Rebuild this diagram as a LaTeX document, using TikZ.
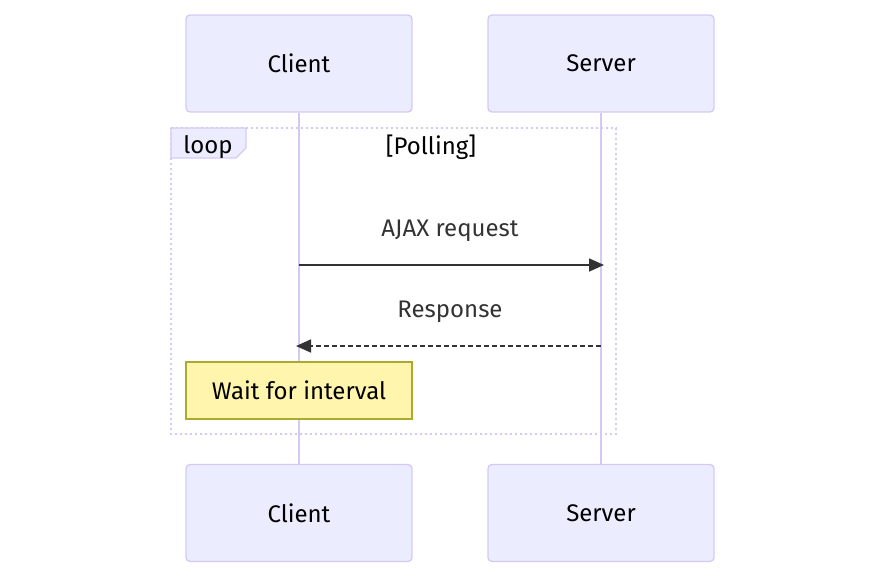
\documentclass[tikz,border=0pt]{standalone}
\usepackage{fontspec}
\setmainfont{Fira Sans}
\usetikzlibrary{arrows.meta}

\definecolor{actorfill}{HTML}{ECECFF}
\definecolor{actorline}{HTML}{D5C9F4}
\definecolor{notefill}{HTML}{FFF5AD}
\definecolor{noteline}{HTML}{AAAA33}
\definecolor{msgtext}{HTML}{333333}

\begin{document}
\begin{tikzpicture}[x=1pt,y=-1pt,> = {Triangle[length=15pt,width=13pt]},
	actor/.style={draw=actorline,fill=actorfill,line width=1.3pt,rounded corners=4pt,
		minimum width=226pt,minimum height=97pt,font=\fontsize{24}{28}\selectfont},
	msg/.style={text=msgtext,font=\fontsize{24}{28}\selectfont},
	lifeline/.style={draw=actorline,line width=2.5pt}]
			\useasboundingbox (0,0) rectangle (885,579);

			% Actors
			\node[actor] (clientTop) at (299,63.5) {Client};
			\node[actor] (serverTop) at (601,63.5) {Server};
			\node[actor] (clientBot) at (299,513) {Client};
			\node[actor] (serverBot) at (601,513) {Server};

			% Lifelines
			\draw[lifeline] (clientTop) -- (clientBot);
			\draw[lifeline] (serverTop) -- (serverBot);

			% Loop frame
			\draw[actorline, line width=2.6pt, dash pattern=on 2.4pt off 2.6pt] (171,128) rectangle (616,434);
			\draw[actorline, fill=actorfill, line width=1.3pt] (171,128) -- (246,128) -- (246,148) -- (236,158) -- (171,158) -- cycle;
			\node[font=\fontsize{24}{28}\selectfont] (loopLbl) at (208,147) {loop};
			\node[font=\fontsize{24}{28}\selectfont] (loopCond) at (431,147) {[Polling]};

			% Messages
			\coordinate (ajaxFrom) at (299,265);
			\coordinate (ajaxTo) at (604,265);
			\coordinate (respFrom) at (601,346);
			\coordinate (respTo) at (296,346);
			\node[msg] (ajaxLbl) at (450,231) {AJAX request};
			\draw[->, msgtext, line width=1.6pt] (ajaxFrom) -- (ajaxTo);
			\node[msg] (respLbl) at (450,312) {Response};
			\draw[->, msgtext, line width=1.6pt, dash pattern=on 5pt off 3pt] (respFrom) -- (respTo);

			% Note
			\node[draw=noteline, fill=notefill, line width=1.3pt, minimum width=226pt, minimum height=57pt,
				font=\fontsize{24}{28}\selectfont] (waitNote) at (299,390.5) {Wait for interval};
		\end{tikzpicture}
\end{document}
